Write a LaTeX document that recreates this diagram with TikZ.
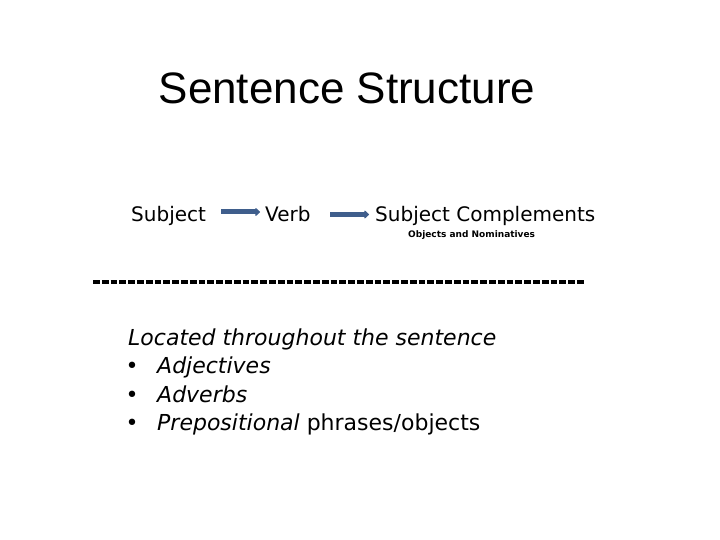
\documentclass[tikz,border=0pt]{standalone}
\usepackage{fontspec}
\setmainfont{DejaVu Sans}
\newfontfamily\titlefont{Liberation Sans}
\usetikzlibrary{arrows.meta}
\definecolor{arrowblue}{HTML}{3F5E8C}
\begin{document}
\begin{tikzpicture}[x=1pt,y=-1pt,
  txt/.style={anchor=base west,inner sep=0pt,font=\fontsize{20}{24}\selectfont},
  lst/.style={anchor=base west,inner sep=0pt,font=\fontsize{22}{26}\selectfont},
  bul/.style={anchor=base,inner sep=0pt,font=\fontsize{22}{26}\selectfont},
  flow/.style={draw=arrowblue,line width=5pt,-{Triangle[length=5pt,width=9pt,round]}}]
\useasboundingbox (0,0) rectangle (720,540);
\node[anchor=base,inner sep=0pt,font=\titlefont\fontsize{44}{50}\selectfont] (title) at (347,104) {Sentence Structure};
\node[txt] (subj) at (131,222) {Subject};
\node[txt] (verb) at (265,222) {Verb};
\node[txt] (comp) at (375,222) {Subject Complements};
\node[anchor=base west,inner sep=0pt,font=\bfseries\fontsize{9}{11}\selectfont] (objs) at (408,237) {Objects and Nominatives};
\coordinate (a1s) at (221,212);
\coordinate (a1e) at (260,212);
\coordinate (a2s) at (330,214.5);
\coordinate (a2e) at (369,214.5);
\draw[flow] (a1s) -- (a1e);
\draw[flow] (a2s) -- (a2e);
\coordinate (d1) at (93,282);
\coordinate (d2) at (585,282);
\draw[line width=3.4pt,dash pattern=on 6.7pt off 2.1pt] (d1) -- (d2);
\node[lst] (loc) at (128,345) {\itshape Located throughout the sentence};
\node[bul] (b1) at (132,373) {•};
\node[bul] (b2) at (132,402) {•};
\node[bul] (b3) at (132,430) {•};
\node[lst] (adj) at (157,373) {\itshape Adjectives};
\node[lst] (adv) at (157,402) {\itshape Adverbs};
\node[lst] (prep) at (157,430) {\textit{Prepositional} phrases/objects};
\end{tikzpicture}
\end{document}
